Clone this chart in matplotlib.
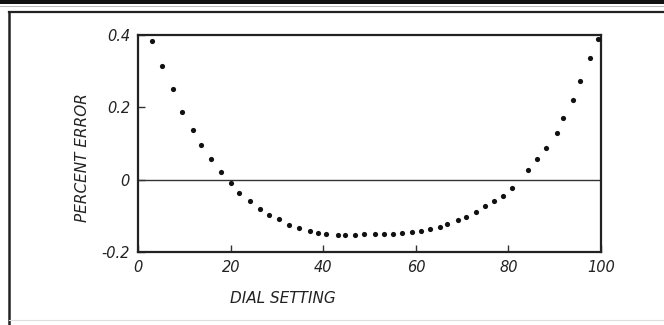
import matplotlib
matplotlib.use("Agg")
import matplotlib.pyplot as plt
from matplotlib.lines import Line2D
from matplotlib.patches import Rectangle

# Data
dial_setting = [2.9, 5.1, 7.4, 9.5, 11.9, 13.6, 15.7, 17.8, 20.0, 21.8,
                24.1, 26.3, 28.2, 30.3, 32.6, 34.7, 37.0, 38.9, 40.6, 43.1,
                44.7, 46.8, 48.8, 51.2, 53.0, 55.1, 57.1, 59.1, 61.1, 63.0,
                65.1, 66.8, 69.0, 70.8, 72.9, 74.9, 76.9, 78.9, 80.8, 84.2,
                86.2, 88.2, 90.4, 91.8, 94.0, 95.5, 97.6, 99.3]
percent_error = [0.384, 0.315, 0.251, 0.186, 0.138, 0.097, 0.058, 0.021, -0.009, -0.038,
                 -0.060, -0.080, -0.097, -0.110, -0.124, -0.135, -0.141, -0.147, -0.150, -0.152,
                 -0.152, -0.152, -0.151, -0.151, -0.150, -0.149, -0.147, -0.146, -0.142, -0.136,
                 -0.131, -0.122, -0.111, -0.102, -0.089, -0.074, -0.060, -0.044, -0.022, 0.028,
                 0.058, 0.088, 0.129, 0.170, 0.221, 0.274, 0.336, 0.389]
x_ticks = [0, 20, 40, 60, 80, 100]
x_tick_labels = ["0", "20", "40", "60", "80", "100"]
y_ticks = [-0.2, 0, 0.2, 0.4]
y_tick_labels = ["-0.2", "0", "0.2", "0.4"]

plt.rcParams['font.family'] = ['DejaVu Sans']
plt.rcParams['font.style'] = 'italic'

fig = plt.figure(figsize=(6.64, 3.25), dpi=100)
fig.patch.set_facecolor('white')

# page decorations (scanned frame)
fig.add_artist(Rectangle((0, 1 - 3.5 / 325), 1, 3.5 / 325, transform=fig.transFigure,
                         facecolor='#111111', edgecolor='none'))
fig.add_artist(Line2D([0, 1], [1 - 5.5 / 325] * 2, transform=fig.transFigure,
                      color='#bbbbbb', lw=0.8))
fig.add_artist(Line2D([8.5 / 664, 1], [1 - 11.5 / 325] * 2, transform=fig.transFigure,
                      color='#222222', lw=1.6))
fig.add_artist(Line2D([8.5 / 664] * 2, [0, 1 - 11.5 / 325], transform=fig.transFigure,
                      color='#222222', lw=1.8))
fig.add_artist(Line2D([8.5 / 664, 1], [5 / 325] * 2, transform=fig.transFigure,
                      color='#dddddd', lw=0.8))

ax = fig.add_axes([0.2083, 0.2246, 0.6968, 0.6677])
ax.scatter(dial_setting, percent_error, s=14, color='#111111', zorder=3, linewidths=0)
ax.axhline(0, color='#333333', lw=1.0, zorder=2)

ax.set_xlim(0, 100)
ax.set_ylim(-0.2, 0.4)
ax.set_xticks(x_ticks)
ax.set_xticklabels(x_tick_labels)
ax.set_yticks(y_ticks)
ax.set_yticklabels(y_tick_labels)
ax.tick_params(direction='in', length=5, width=1.0, color='#333333',
               labelsize=10.5, labelcolor='#222222')
ax.tick_params(axis='x', pad=6)
ax.tick_params(axis='y', pad=6)

for sp in ax.spines.values():
    sp.set_linewidth(1.6)
    sp.set_color('#222222')

ax.set_xlabel("DIAL SETTING", fontsize=11, color='#222222')
ax.xaxis.set_label_coords(0.313, -0.18)
ax.set_ylabel("PERCENT ERROR", fontsize=11, color='#222222')
ax.yaxis.set_label_coords(-0.12, 0.435)
ax.yaxis.label.set_verticalalignment('center')

fig.savefig("out.png", dpi=100, facecolor='white')
